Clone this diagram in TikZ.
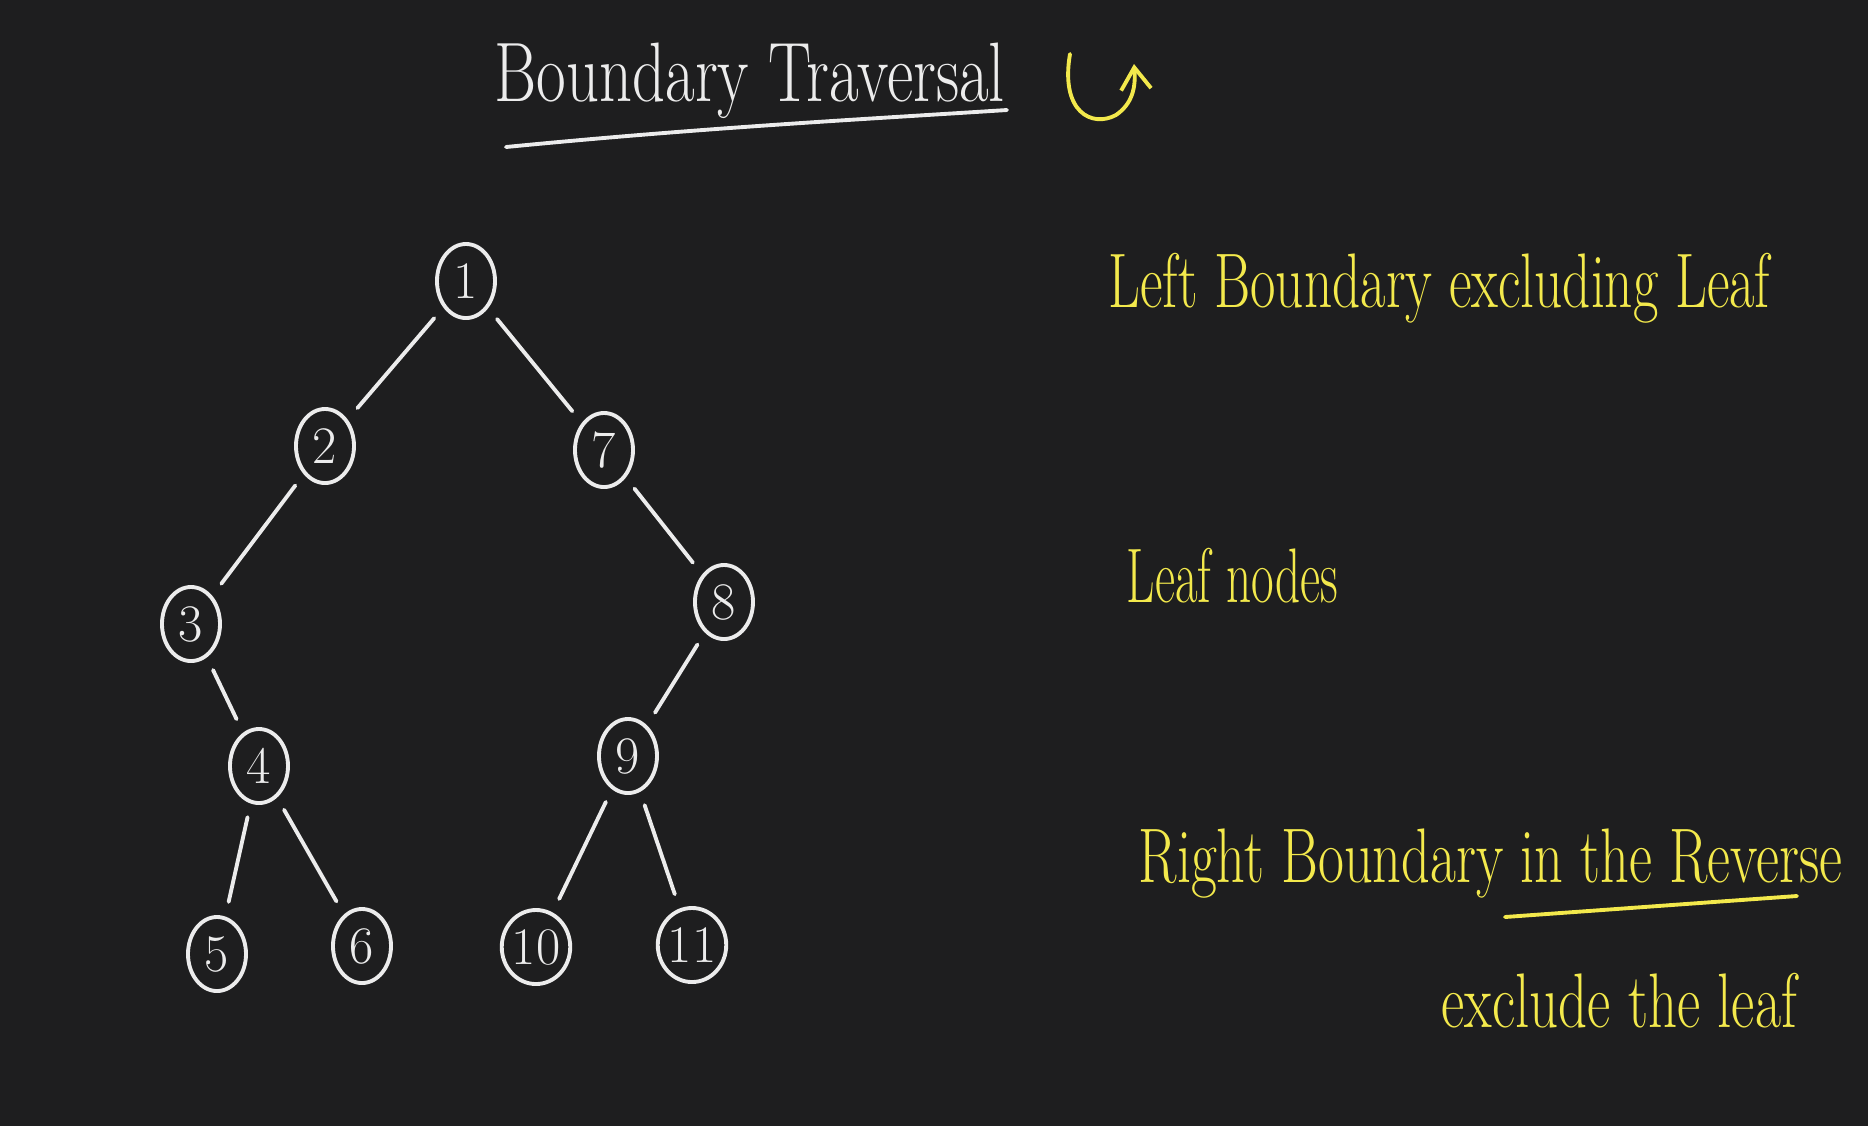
\documentclass[tikz,border=0pt]{standalone}
\usepackage{tikz}
\usetikzlibrary{positioning, shapes.geometric, arrows.meta}

\definecolor{board}{RGB}{30,30,31}
\definecolor{chalk}{RGB}{236,236,236}
\definecolor{marker}{RGB}{243,233,76}
% squeeze a line of text to a given width, keeping its height
\newcommand{\squeeze}[2]{\resizebox{#1}{\height}{#2}}

\begin{document}
\begin{tikzpicture}[x=0.01cm, y=-0.01cm,
    treenode/.style={draw=chalk, line width=1.1pt, ellipse, minimum width=0.58cm, minimum height=0.74cm, inner sep=0pt, text=chalk, font=\fontsize{15}{15}\selectfont},
    branch/.style={draw=chalk, line width=1.1pt, line cap=round, shorten <=0.14cm, shorten >=0.15cm},
    note/.style={text=marker, anchor=base west, inner sep=0pt, font=\fontsize{22}{22}\selectfont}]

      \fill[board] (0,0) rectangle (1868,1126);

      % heading
      \node[anchor=base west, inner sep=0pt, text=chalk, font=\fontsize{24}{24}\selectfont] (title) at (494,101) {\squeeze{5.1cm}{Boundary Traversal}};
      \draw[chalk, line width=1.1pt, line cap=round] (506,147) .. controls (700,128) and (850,120) .. (1007,110);
      \draw[marker, line width=1.1pt, line cap=round, -{Straight Barb[length=2.2mm, width=3mm]}] (1070,54) .. controls (1060,112) and (1092,128) .. (1116,115) .. controls (1132,104) and (1136,88) .. (1134,64);

      % the tree
      \node[treenode] (n1) at (466,281) {1};
      \node[treenode] (n2) at (325,446) {2};
      \node[treenode] (n7) at (604,450) {7};
      \node[treenode] (n3) at (191,624) {3};
      \node[treenode] (n8) at (724,602) {8};
      \node[treenode] (n4) at (259,766) {4};
      \node[treenode] (n9) at (628,756) {9};
      \node[treenode] (n5) at (217,954) {5};
      \node[treenode] (n6) at (362,946) {6};
      \node[treenode] (n10) at (536,947) {10};
      \node[treenode] (n11) at (692,945) {11};

      \draw[branch] (n1) -- (n2);
      \draw[branch] (n1) -- (n7);
      \draw[branch] (n2) -- (n3);
      \draw[branch] (n7) -- (n8);
      \draw[branch] (n3) -- (n4);
      \draw[branch] (n8) -- (n9);
      \draw[branch] (n4) -- (n5);
      \draw[branch] (n4) -- (n6);
      \draw[branch] (n9) -- (n10);
      \draw[branch] (n9) -- (n11);

      % steps
      \node[note] (left) at (1108,307) {\squeeze{6.61cm}{Left Boundary excluding Leaf}};
      \node[note] (leaves) at (1126,602) {\squeeze{2.11cm}{Leaf nodes}};
      \node[note] (right) at (1138,882) {\squeeze{7.03cm}{Right Boundary in the Reverse}};
      \draw[marker, line width=1.1pt, line cap=round] (1505,917) -- (1797,896);
      \node[note] (exclude) at (1441,1027) {\squeeze{3.55cm}{exclude the leaf}};
    \end{tikzpicture}
\end{document}
